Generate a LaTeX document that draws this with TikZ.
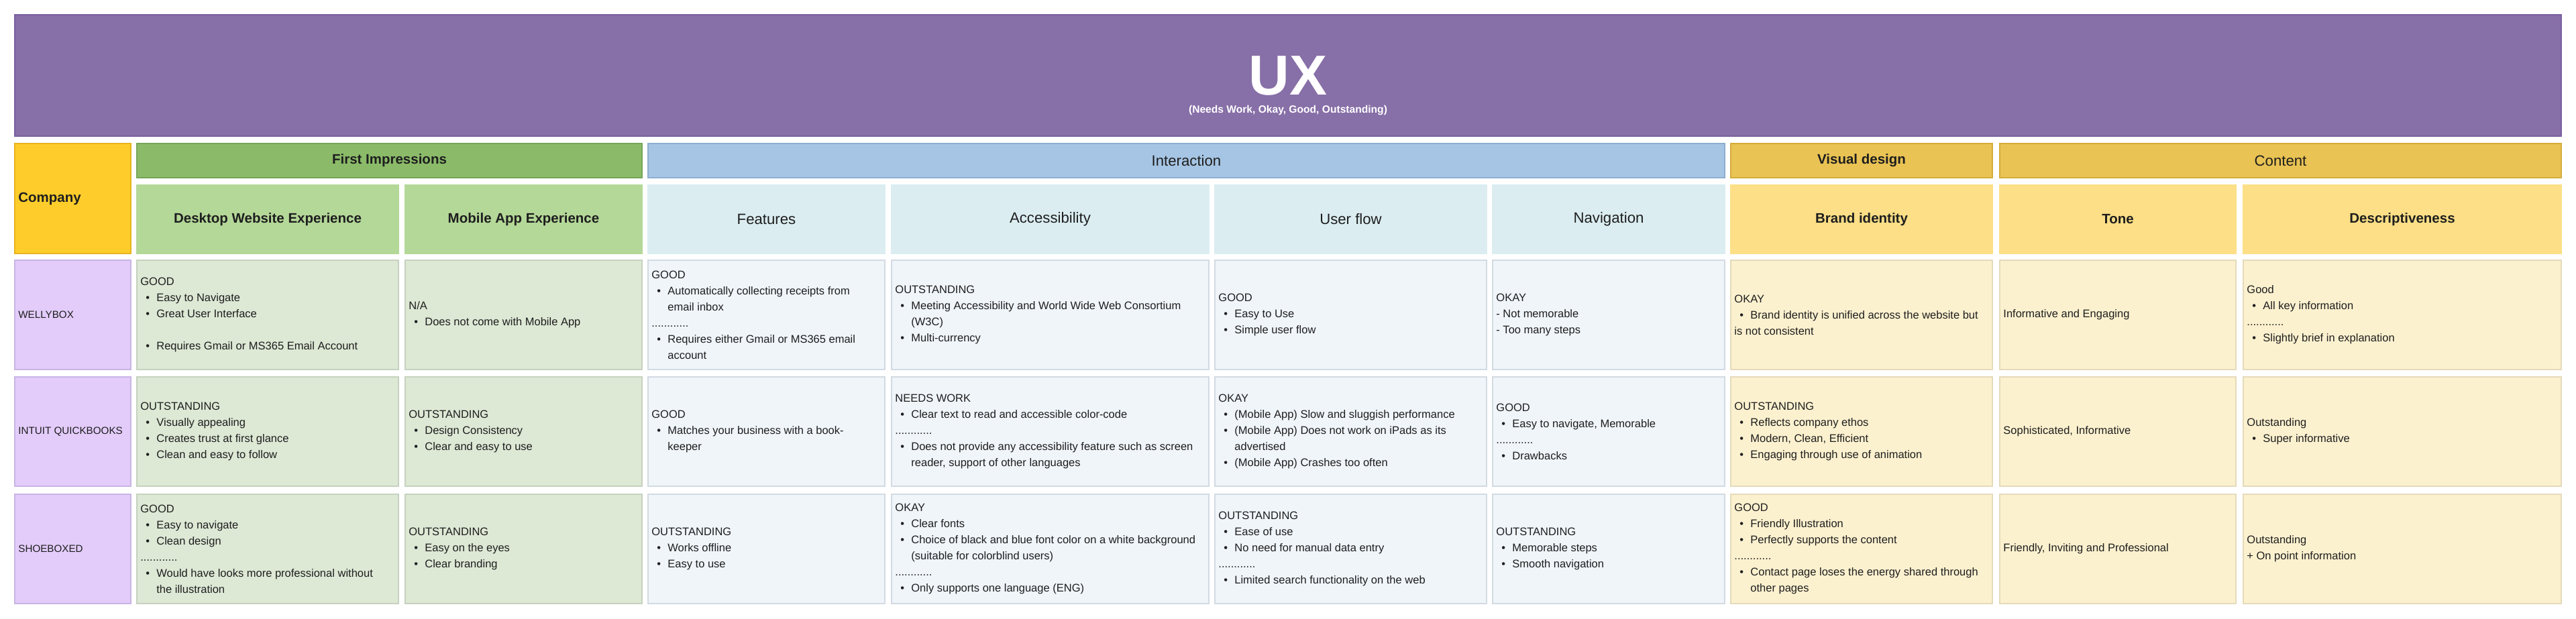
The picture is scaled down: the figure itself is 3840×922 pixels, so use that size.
\documentclass[tikz,border=0pt]{standalone}
\usepackage{fontspec}
\setmainfont{Liberation Sans}
\usetikzlibrary{fit}

\definecolor{titlebg}{RGB}{135,111,167}
\definecolor{titleln}{RGB}{120,96,158}
\definecolor{compbg}{RGB}{255,205,43}
\definecolor{compln}{RGB}{232,180,30}
\definecolor{fihead}{RGB}{139,187,105}
\definecolor{fiheadln}{RGB}{118,166,86}
\definecolor{fisub}{RGB}{180,216,152}
\definecolor{greenbg}{RGB}{221,232,213}
\definecolor{greenln}{RGB}{198,210,191}
\definecolor{inhead}{RGB}{166,197,228}
\definecolor{inheadln}{RGB}{140,174,208}
\definecolor{insub}{RGB}{219,237,241}
\definecolor{bluebg}{RGB}{240,245,250}
\definecolor{blueln}{RGB}{210,218,226}
\definecolor{vihead}{RGB}{233,195,83}
\definecolor{viheadln}{RGB}{212,172,58}
\definecolor{visub}{RGB}{252,223,134}
\definecolor{yellowbg}{RGB}{252,241,207}
\definecolor{yellowln}{RGB}{228,218,186}
\definecolor{lavbg}{RGB}{227,204,250}
\definecolor{lavln}{RGB}{200,180,228}
\definecolor{ink}{RGB}{30,30,30}

\newcommand{\bul}{\makebox[12pt][l]{\hspace*{4pt}\textbullet}}
\newcommand{\ind}{\hspace*{12pt}}
\newcommand{\dotsep}{............}

\begin{document}
\begin{tikzpicture}[
    x=0.5pt, y=-0.5pt,
    box/.style={inner sep=0pt, outer sep=0pt, line width=0.6pt},
    headreg/.style={text=ink, font=\fontsize{11.1}{13}\selectfont},
    headbold/.style={text=ink, font=\bfseries\fontsize{10.25}{13}\selectfont},
    title box/.style={box, fill=titlebg, draw=titleln},
    company head/.style={box, fill=compbg, draw=compln},
    first head/.style={box, fill=fihead, draw=fiheadln},
    inter head/.style={box, fill=inhead, draw=inheadln},
    visual head/.style={box, fill=vihead, draw=viheadln},
    first sub/.style={box, fill=fisub, draw=fisub},
    inter sub/.style={box, fill=insub, draw=insub},
    visual sub/.style={box, fill=visub, draw=visub},
    green cell/.style={box, fill=greenbg, draw=greenln},
    blue cell/.style={box, fill=bluebg, draw=blueln},
    yellow cell/.style={box, fill=yellowbg, draw=yellowln},
    name cell/.style={box, fill=lavbg, draw=lavln},
    celltxt/.style={anchor=west, inner sep=0pt, align=left, text=ink,
        font=\fontsize{8.25}{12}\selectfont},
    nametxt/.style={celltxt, font=\fontsize{7.6}{12}\selectfont},
  ]
\useasboundingbox (0,0) rectangle (3840,922);

% title banner
\node[title box, fit={(22,22) (3818,203)}] (title) {};
\node[text=white, font=\bfseries\fontsize{42}{44}\selectfont] (ux) at (1920,113) {UX};
\node[text=white, font=\bfseries\fontsize{7.8}{9}\selectfont] (scale) at (1920,164)
    {(Needs Work, Okay, Good, Outstanding)};

% company header
\node[company head, fit={(22,214) (195,378)}] (company) {};
\node[celltxt, font=\bfseries\fontsize{10.25}{13}\selectfont] (company-t)
    at ([xshift=2.5pt]company.west) {Company};

% group headers
\foreach \name/\xa/\xb/\sty/\fnt/\lbl in {
        first/204/957/first head/headbold/First Impressions,
        inter/966/2571/inter head/headreg/Interaction,
        visual/2580/2970/visual head/headbold/Visual design,
        content/2981/3818/visual head/headreg/Content}
    {\node[\sty, fit={(\xa,214) (\xb,265)}] (\name) {};
     \node[\fnt] (\name-t) at (\name.center) {\lbl};}

% column headers
\foreach \name/\xa/\xb/\sty/\fnt/\lbl in {
        desk/204/594/first sub/headbold/Desktop Website Experience,
        mob/604/957/first sub/headbold/Mobile App Experience,
        feat/966/1319/inter sub/headreg/Features,
        acc/1329/1802/inter sub/headreg/Accessibility,
        flow/1811/2216/inter sub/headreg/User flow,
        nav/2225/2571/inter sub/headreg/Navigation,
        brand/2580/2970/visual sub/headbold/Brand identity,
        tone/2981/3333/visual sub/headbold/Tone,
        desc/3344/3818/visual sub/headbold/Descriptiveness}
    {\node[\sty, fit={(\xa,276) (\xb,378)}] (\name) {};
     \node[\fnt] (\name-t) at (\name.center) {\lbl};}

% company names
\foreach \name/\ya/\yb/\lbl in {
        well/388/551/WELLYBOX,
        quick/562/725/INTUIT QUICKBOOKS,
        shoe/737/900/SHOEBOXED}
    {\node[name cell, fit={(22,\ya) (195,\yb)}] (\name) {};
     \node[nametxt] (\name-t) at ([xshift=2.5pt]\name.west) {\lbl};}

% WELLYBOX row
\foreach \col/\sty/\txt in {
        desk/green cell/{GOOD\\\bul Easy to Navigate\\\bul Great User Interface\\\mbox{}\\\bul Requires Gmail or MS365 Email Account},
        mob/green cell/{N/A\\\bul Does not come with Mobile App},
        feat/blue cell/{GOOD\\\bul Automatically collecting receipts from\\\ind email inbox\\\dotsep\\\bul Requires either Gmail or MS365 email\\\ind account},
        acc/blue cell/{OUTSTANDING\\\bul Meeting Accessibility and World Wide Web Consortium\\\ind (W3C)\\\bul Multi-currency},
        flow/blue cell/{GOOD\\\bul Easy to Use\\\bul Simple user flow},
        nav/blue cell/{OKAY\\- Not memorable\\- Too many steps},
        brand/yellow cell/{OKAY\\\bul Brand identity is unified across the website but\\is not consistent},
        tone/yellow cell/{Informative and Engaging},
        desc/yellow cell/{Good\\\bul All key information\\\dotsep\\\bul Slightly brief in explanation}}
    {\node[\sty, fit={(\col.west |- 0,388) (\col.east |- 0,551)}] (well-\col) {};
     \node[celltxt] (well-\col-t) at ([xshift=2.5pt]well-\col.west) {\txt};}

% INTUIT QUICKBOOKS row
\foreach \col/\sty/\txt in {
        desk/green cell/{OUTSTANDING\\\bul Visually appealing\\\bul Creates trust at first glance\\\bul Clean and easy to follow},
        mob/green cell/{OUTSTANDING\\\bul Design Consistency\\\bul Clear and easy to use},
        feat/blue cell/{GOOD\\\bul Matches your business with a book-\\\ind keeper},
        acc/blue cell/{NEEDS WORK\\\bul Clear text to read and accessible color-code\\\dotsep\\\bul Does not provide any accessibility feature such as screen\\\ind reader, support of other languages},
        flow/blue cell/{OKAY\\\bul (Mobile App) Slow and sluggish performance\\\bul (Mobile App) Does not work on iPads as its\\\ind advertised\\\bul (Mobile App) Crashes too often},
        nav/blue cell/{GOOD\\\bul Easy to navigate, Memorable\\\dotsep\\\bul Drawbacks},
        brand/yellow cell/{OUTSTANDING\\\bul Reflects company ethos\\\bul Modern, Clean, Efficient\\\bul Engaging through use of animation},
        tone/yellow cell/{Sophisticated, Informative},
        desc/yellow cell/{Outstanding\\\bul Super informative}}
    {\node[\sty, fit={(\col.west |- 0,562) (\col.east |- 0,725)}] (quick-\col) {};
     \node[celltxt] (quick-\col-t) at ([xshift=2.5pt]quick-\col.west) {\txt};}

% SHOEBOXED row
\foreach \col/\sty/\txt in {
        desk/green cell/{GOOD\\\bul Easy to navigate\\\bul Clean design\\\dotsep\\\bul Would have looks more professional without\\\ind the illustration},
        mob/green cell/{OUTSTANDING\\\bul Easy on the eyes\\\bul Clear branding},
        feat/blue cell/{OUTSTANDING\\\bul Works offline\\\bul Easy to use},
        acc/blue cell/{OKAY\\\bul Clear fonts\\\bul Choice of black and blue font color on a white background\\\ind (suitable for colorblind users)\\\dotsep\\\bul Only supports one language (ENG)},
        flow/blue cell/{OUTSTANDING\\\bul Ease of use\\\bul No need for manual data entry\\\dotsep\\\bul Limited search functionality on the web},
        nav/blue cell/{OUTSTANDING\\\bul Memorable steps\\\bul Smooth navigation},
        brand/yellow cell/{GOOD\\\bul Friendly Illustration\\\bul Perfectly supports the content\\\dotsep\\\bul Contact page loses the energy shared through\\\ind other pages},
        tone/yellow cell/{Friendly, Inviting and Professional},
        desc/yellow cell/{Outstanding\\+ On point information}}
    {\node[\sty, fit={(\col.west |- 0,737) (\col.east |- 0,900)}] (shoe-\col) {};
     \node[celltxt] (shoe-\col-t) at ([xshift=2.5pt]shoe-\col.west) {\txt};}
\end{tikzpicture}
\end{document}
